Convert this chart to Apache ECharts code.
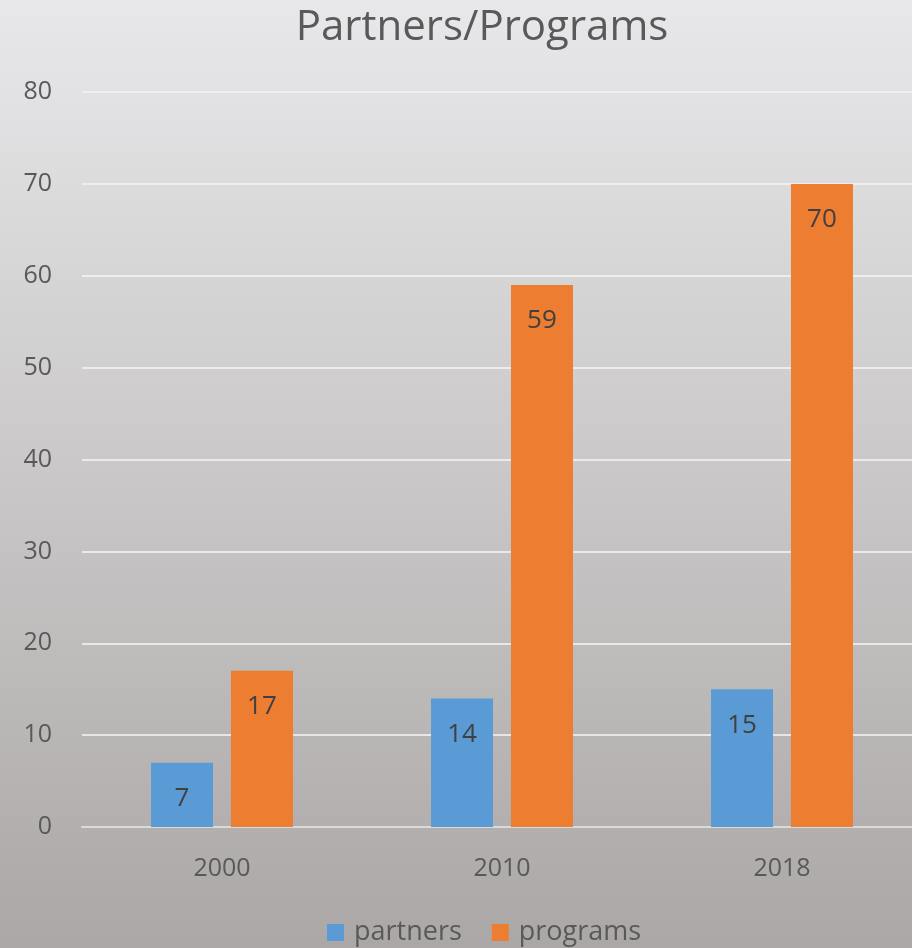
<!DOCTYPE html>
<html>
<head>
<meta charset="utf-8">
<script src="https://cdn.jsdelivr.net/npm/echarts@6/dist/echarts.min.js"></script>
<style>
  html, body { margin: 0; padding: 0; }
  #chart { width: 912px; height: 948px; }
</style>
</head>
<body>
<div id="chart"></div>
<script>
// data
var years = ['2000', '2010', '2018'];
var partners = [7, 14, 15];
var programs = [17, 59, 70];

var font = 'Open Sans';
var chart = echarts.init(document.getElementById('chart'));
var labelStyle = { show: true, position: 'insideTop', distance: 23, fontFamily: font, fontSize: 26, color: '#404040' };
var option = {
  backgroundColor: new echarts.graphic.LinearGradient(0, 0, 0, 1, [
    { offset: 0, color: '#e8e8ea' },
    { offset: 1, color: '#aba7a6' }
  ]),
  title: {
    text: 'Partners/Programs',
    left: 477,
    textAlign: 'center',
    top: 2,
    textStyle: { fontFamily: font, fontSize: 42, fontWeight: 'normal', color: '#595959' }
  },
  legend: {
    bottom: -3,
    left: 322,
    itemWidth: 17,
    itemHeight: 17,
    itemGap: 30,
    icon: 'rect',
    textStyle: { fontFamily: font, fontSize: 27, color: '#595959', padding: [0, 0, 0, 5] },
    data: ['partners', 'programs']
  },
  grid: { left: 82, width: 840, top: 92, bottom: 121, containLabel: false, outerBoundsMode: 'none' },
  xAxis: {
    type: 'category',
    data: years,
    axisLine: { lineStyle: { color: '#dadada', width: 2 } },
    axisTick: { show: false },
    axisLabel: { fontFamily: font, fontSize: 25, color: '#595959', margin: 29 }
  },
  yAxis: {
    type: 'value',
    min: 0,
    max: 80,
    interval: 10,
    axisLine: { show: false },
    axisTick: { show: false },
    axisLabel: { fontFamily: font, fontSize: 25, color: '#595959', margin: 30 },
    splitLine: { lineStyle: { color: 'rgba(242,242,242,0.8)', width: 2 } }
  },
  series: [
    {
      name: 'partners',
      type: 'bar',
      data: partners,
      barWidth: 62,
      barGap: '29%',
      itemStyle: { color: '#5b9bd5' },
      label: labelStyle
    },
    {
      name: 'programs',
      type: 'bar',
      data: programs,
      barWidth: 62,
      itemStyle: { color: '#ed7d31' },
      label: labelStyle
    }
  ]
};
chart.setOption(option);
</script>
</body>
</html>
